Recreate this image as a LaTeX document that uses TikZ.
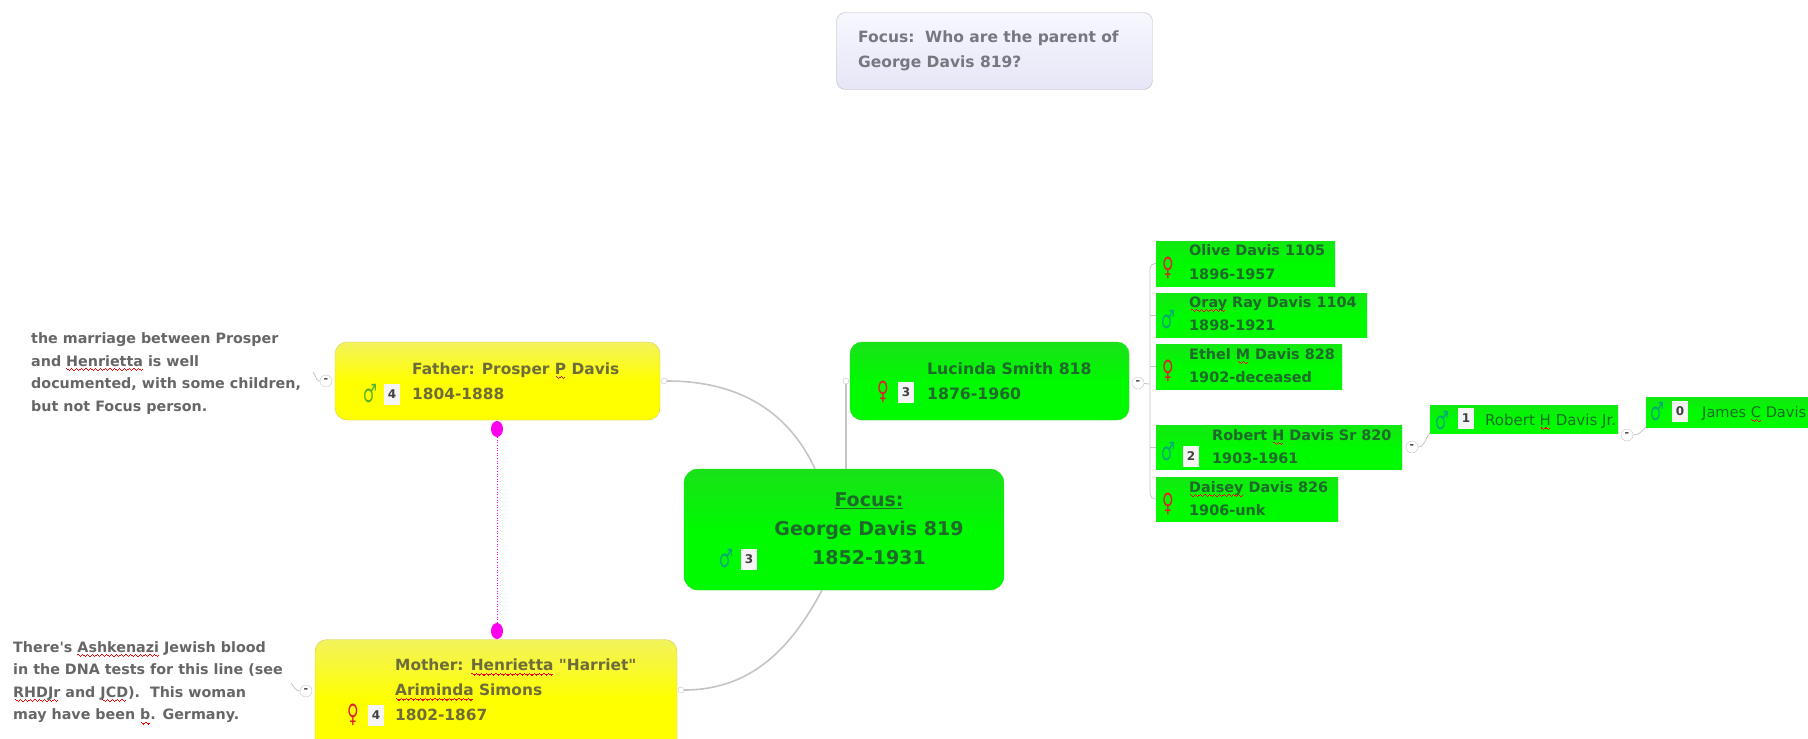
\documentclass[tikz,border=0pt]{standalone}
\usepackage{fontspec}
\usetikzlibrary{shapes.geometric}
\setmainfont{DejaVu Sans}[Ligatures=TeXOff]
\newsavebox\typobox
\newcommand\typowave{\rule[-3.2pt]{1.2pt}{1.1pt}\rule[-4pt]{1.2pt}{1.1pt}\rule[-4.8pt]{1.2pt}{1.1pt}\rule[-4pt]{1.2pt}{1.1pt}}
\newcommand\typo[1]{\sbox\typobox{#1}\leavevmode\rlap{\hbox to \wd\typobox{\textcolor{red}{\cleaders\hbox{\typowave}\hfill}}}\usebox\typobox}
\definecolor{mapgreen}{HTML}{00FA00}
\definecolor{mapyellow}{HTML}{FFFF00}
\definecolor{linegray}{HTML}{C4C4C4}
\definecolor{greentext}{HTML}{1E6A2A}
\definecolor{yellowtext}{HTML}{6E6C3A}
\definecolor{notetext}{HTML}{666666}
\definecolor{asktext}{HTML}{77777F}
\definecolor{malegreen}{HTML}{00A878}
\definecolor{maleyellow}{HTML}{55B030}
\definecolor{femalered}{HTML}{E02030}
\definecolor{tiecolor}{HTML}{FF00EE}
\tikzset{
  focusbox/.style={rounded corners=14pt,draw=green!75!gray,top color=mapgreen!80!gray,bottom color=mapgreen,middle color=mapgreen,inner sep=0pt},
  yellowbox/.style={rounded corners=12pt,draw=yellow!60!gray,top color=yellow!65!white!90!gray,bottom color=mapyellow,middle color=mapyellow,inner sep=0pt},
  childbox/.style={top color=mapgreen!85!gray,bottom color=mapgreen,middle color=mapgreen,inner sep=0pt},
  askbox/.style={rounded corners=9pt,draw=gray!55,top color=white!97!blue,bottom color=blue!7!white!93!gray,inner sep=0pt},
  nametext/.style={anchor=west,align=left,inner sep=0pt,text=greentext,font=\bfseries\fontsize{14.4}{23.5}\selectfont},
  parenttext/.style={anchor=west,align=left,inner sep=0pt,text=yellowtext,font=\bfseries\fontsize{15.4}{25}\selectfont},
  notetxt/.style={anchor=west,align=left,inner sep=0pt,text=notetext,font=\bfseries\fontsize{14.3}{22.5}\selectfont},
  sign/.style={inner sep=0pt,xscale=0.72,yscale=1.15,transform shape,font=\fontsize{22}{22}\selectfont},
  badge/.style={fill=white!92!gray,inner sep=0pt,minimum width=16pt,minimum height=21pt,font=\bfseries\fontsize{12}{12}\selectfont,text=black!75},
  toggle/.style={circle,draw=linegray,fill=white,inner sep=0pt,minimum size=12pt,font=\bfseries\fontsize{11}{11}\selectfont,text=black!70},
  stub/.style={circle,draw=linegray,fill=white,inner sep=0pt,minimum size=6pt},
  link/.style={draw=linegray,line width=1.6pt},
  thinlink/.style={draw=linegray,line width=0.8pt},
  tie/.style={ellipse,fill=tiecolor,inner sep=0pt,minimum width=12pt,minimum height=16pt}
}
\begin{document}
\begin{tikzpicture}[x=1pt,y=-1pt]
  \useasboundingbox (0,0) rectangle (1808,739);
  \clip (0,0) rectangle (1808,739);
  % connectors go first, boxes sit on top
  \coordinate (spine) at (1150,384);
  \coordinate (fatherhook) at (313,372);
  \coordinate (motherhook) at (291,683);
  \draw
    (994.5,51) node[askbox,minimum width=316pt,minimum height=77pt] (ask){}
    (844,529.5) node[focusbox,minimum width=320pt,minimum height=121pt] (focus){}
    (497.5,381) node[yellowbox,minimum width=325pt,minimum height=78pt] (father){}
    (496,700) node[yellowbox,minimum width=362pt,minimum height=121pt] (mother){}
    (989.5,381) node[focusbox,rounded corners=12pt,minimum width=279pt,minimum height=78pt] (lucinda){}
    (1245.5,263.5) node[childbox,minimum width=179pt,minimum height=45pt] (olive){}
    (1261.5,315) node[childbox,minimum width=211pt,minimum height=44pt] (oray){}
    (1249,366.5) node[childbox,minimum width=186pt,minimum height=45pt] (ethel){}
    (1279,447) node[childbox,minimum width=246pt,minimum height=44pt] (robertsr){}
    (1247,499) node[childbox,minimum width=182pt,minimum height=44pt] (daisey){}
    (1524,419) node[childbox,minimum width=188pt,minimum height=28pt] (robertjr){}
    (1727,412) node[childbox,minimum width=162pt,minimum height=30pt] (james){};
  \draw
    (664,381) node[stub] (fatherstub){}
    (681,690) node[stub] (motherstub){}
    (846,381) node[stub] (lucindastub){}
    (1138,383) node[toggle] (lucindatoggle){-}
    (326,381) node[toggle] (fathertoggle){-}
    (306,691) node[toggle] (mothertoggle){-}
    (1412,447) node[toggle] (robertsrtoggle){-}
    (1627,435) node[toggle] (robertjrtoggle){-}
    (497,429) node[tie] (fathertie){}
    (497,631) node[tie] (mothertie){};
  \begin{scope}[link]
    \draw (fatherstub) to[out=0,in=115] ([xshift=-29pt]focus.north);
    \draw (motherstub) to[out=0,in=242] ([xshift=-22pt]focus.south);
    \draw (lucindastub) to (lucindastub |- focus.north);
  \end{scope}
  \begin{scope}[thinlink]
    \draw (lucindatoggle) to (spine);
    \draw[rounded corners=5pt] (olive.west) -- (olive.west -| spine) -- (daisey.west -| spine) -- (daisey.west);
    \draw (oray.west) to (oray.west -| spine);
    \draw (ethel.west) to (ethel.west -| spine);
    \draw (robertsr.west) to (robertsr.west -| spine);
    \draw (robertsrtoggle) to[out=0,in=225] (robertjr.south west);
    \draw (robertjrtoggle) to[out=0,in=225] (james.south west);
    \draw (fathertoggle) to[out=180,in=-45] (fatherhook);
    \draw (mothertoggle) to[out=180,in=-45] (motherhook);
  \end{scope}
  \draw[tiecolor,dotted,line width=0.6pt] (fathertie) to (mothertie);
  % texts
  \draw
    (858,51) node[notetxt,text=asktext,font=\bfseries\fontsize{15.5}{25}\selectfont] (asktext){Focus:\ \ Who are the parent of\\George Davis 819?}
    (31,373.5) node[notetxt] (fathernote){the marriage between Prosper\\and \typo{Henrietta} is well\\documented, with some children,\\but not Focus person.}
    (13,683) node[notetxt] (mothernote){There's \typo{Ashkenazi} Jewish blood\\in the DNA tests for this line (see\\\typo{RHDJr} and \typo{JCD}).\ \ This woman\\may have been \typo{b}. Germany.}
    (412,381) node[parenttext] (fathertext){Father: Prosper \typo{P} Davis\\1804-1888}
    (395,690) node[parenttext] (mothertext){Mother: \typo{Henrietta} "Harriet"\\\typo{Ariminda} Simons\\1802-1867}
    (869,529) node[nametext,anchor=center,align=center,font=\bfseries\fontsize{19}{29}\selectfont] (focustext){\underline{Focus:}\\George Davis 819\\1852-1931}
    (927,381) node[nametext,font=\bfseries\fontsize{15.7}{25}\selectfont] (lucindatext){Lucinda Smith 818\\1876-1960}
    (1189,262) node[nametext] (olivetext){Olive Davis 1105\\1896-1957}
    (1189,313.5) node[nametext] (oraytext){\typo{Oray} Ray Davis 1104\\1898-1921}
    (1189,365.5) node[nametext] (etheltext){Ethel \typo{M} Davis 828\\1902-deceased}
    (1212,446.5) node[nametext] (robertsrtext){Robert \typo{H} Davis Sr 820\\1903-1961}
    (1189,498.5) node[nametext] (daiseytext){\typo{Daisey} Davis 826\\1906-unk}
    (1485,422) node[nametext,font=\fontsize{15}{16}\selectfont] (robertjrtext){Robert \typo{H} Davis Jr.}
    (1702,414) node[nametext,font=\fontsize{14.6}{16}\selectfont] (jamestext){James \typo{C} Davis};
  % signs and counts
  \draw
    (370,394) node[sign,text=maleyellow] (fathersign){♂}
    (392,394) node[badge] (fathercount){4}
    (353,715) node[sign,text=femalered] (mothersign){♀}
    (376,715) node[badge] (mothercount){4}
    (726,559) node[sign,text=malegreen] (focussign){♂}
    (749,559) node[badge] (focuscount){3}
    (883,392) node[sign,text=femalered] (lucindasign){♀}
    (906,392) node[badge] (lucindacount){3}
    (1168,268) node[sign,text=femalered] (olivesign){♀}
    (1168,320) node[sign,text=malegreen] (oraysign){♂}
    (1168,371) node[sign,text=femalered] (ethelsign){♀}
    (1168,452) node[sign,text=malegreen] (robertsrsign){♂}
    (1191,456) node[badge] (robertsrcount){2}
    (1168,504) node[sign,text=femalered] (daiseysign){♀}
    (1442,421) node[sign,text=malegreen] (robertjrsign){♂}
    (1466,418) node[badge] (robertjrcount){1}
    (1657,412) node[sign,text=malegreen] (jamessign){♂}
    (1680,411) node[badge] (jamescount){0};
\end{tikzpicture}
\end{document}
